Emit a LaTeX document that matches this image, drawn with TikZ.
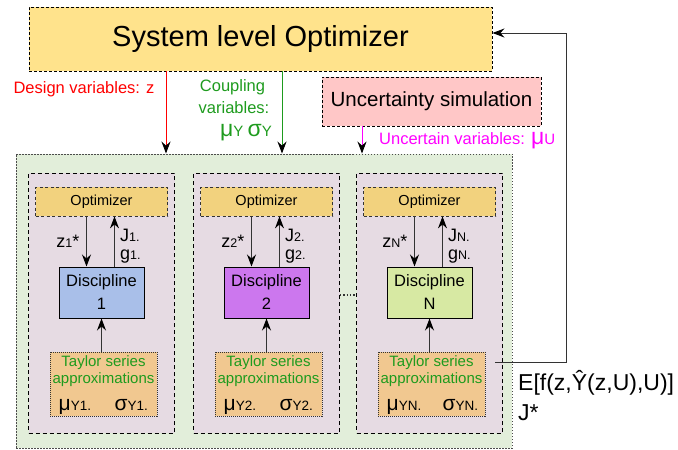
\documentclass[tikz,border=0pt]{standalone}
\usepackage{fontspec}
\setmainfont{Liberation Sans}
\usetikzlibrary{arrows.meta,calc}
\definecolor{sysfill}{HTML}{FFE38C}
\definecolor{uncfill}{HTML}{FFC7C7}
\definecolor{outerfill}{HTML}{E2EEDA}
\definecolor{subfill}{HTML}{E6DBE3}
\definecolor{optfill}{HTML}{F2D27E}
\definecolor{discAcol}{HTML}{A9BFE9}
\definecolor{discBcol}{HTML}{CC77EE}
\definecolor{discCcol}{HTML}{D7E9A3}
\definecolor{tayfill}{HTML}{F1C890}
\definecolor{greentxt}{HTML}{1E9B1E}
\definecolor{redtxt}{HTML}{FF0000}
\definecolor{magtxt}{HTML}{FF00FF}
\definecolor{linegrey}{HTML}{333333}
\newcommand\myfs[1]{\fontsize{#1}{#1}\selectfont}
\begin{document}
\begin{tikzpicture}[x=1pt,y=-1pt,
  tip/.style={-{Stealth[length=12pt,width=9pt,inset=4pt,black]}},
  arr/.style={tip,draw=linegrey,line width=1pt},
  sysbox/.style={draw,fill=sysfill,dash pattern=on 3pt off 2pt,line width=0.9pt,inner sep=0pt},
  uncbox/.style={draw,fill=uncfill,dash pattern=on 3pt off 2pt,line width=0.9pt,inner sep=0pt},
  outerbox/.style={draw=black!70,fill=outerfill,dash pattern=on 1.5pt off 1.5pt,line width=0.9pt,inner sep=0pt},
  subbox/.style={draw,fill=subfill,dash pattern=on 4pt off 3pt,line width=1pt,inner sep=0pt},
  optbox/.style={draw=black!80,fill=optfill,dash pattern=on 3pt off 2.5pt,line width=0.8pt,inner sep=0pt},
  discbox/.style={draw,line width=1pt,inner sep=0pt,align=center,font=\myfs{16.5},execute at begin node={\baselineskip=23pt}},
  taybox/.style={draw=black!80,fill=tayfill,dash pattern=on 1pt off 1pt,line width=0.8pt,inner sep=0pt},
  txt/.style={inner sep=0pt},
]
\useasboundingbox (0,0) rectangle (678,450);

% top level
\node[sysbox,minimum width=463pt,minimum height=64pt] (sys) at (260.5,39) {\myfs{29}System level Optimizer};
\node[uncbox,minimum width=219pt,minimum height=49pt] (unc) at (431.5,101.5) {\myfs{20.5}Uncertainty simulation};
\node[outerbox,minimum width=496pt,minimum height=294pt] (outer) at (264,301) {};

% labels of top arrows
\node[txt,text=redtxt] (dlab) at (84,89) {\myfs{16.5}Design variables: z};
\node[txt,text=greentxt] (clabA) at (232.5,87) {\myfs{16.5}Coupling};
\node[txt,text=greentxt] (clabB) at (234,108) {\myfs{16.5}variables:};
\node[txt,text=greentxt,anchor=base] (clabC) at (246,136) {\myfs{23}μ\myfs{15}Y \myfs{23}σ\myfs{15}Y};
\node[txt,text=magtxt,anchor=base west] (ulab) at (379,144) {\myfs{16.5}Uncertain variables: \myfs{23}μ\myfs{15}U};

% top arrows
\coordinate (dz) at (166,0);
\coordinate (dc) at (282,0);
\coordinate (du) at (362,0);
\draw[tip,draw=redtxt,line width=1pt] (sys.south -| dz) -- (outer.north -| dz);
\draw[tip,draw=greentxt,line width=1pt] (sys.south -| dc) -- (outer.north -| dc);
\draw[tip,draw=magtxt,line width=1pt] (unc.south -| du) -- (outer.north -| du);

% discipline columns
\foreach \i/\cx/\col in {1/101.5/discAcol, 2/266.5/discBcol, N/429.5/discCcol}{
  \node[subbox,minimum width=146pt,minimum height=260pt] (sub\i) at (\cx,303) {};
  \node[optbox,minimum width=132pt,minimum height=29pt] (opt\i) at (\cx,201.5) {\myfs{14.5}Optimizer};
  \node[discbox,fill=\col,minimum width=85pt,minimum height=51pt] (disc\i) at (\cx,292.5) {Discipline\\\i};
  \node[taybox,minimum width=107pt,minimum height=64pt] (tay\i) at (\cx+2,384) {};
  \node[txt,text=greentxt,anchor=base] (tayA\i) at (\cx+2,366) {\myfs{15}Taylor series};
  \node[txt,text=greentxt,anchor=base] (tayB\i) at (\cx+2,383.5) {\myfs{15}approximations};
  \node[txt,anchor=base west] (mu\i) at (\cx-43,410) {\myfs{21}μ\myfs{13.5}Y\i.};
  \node[txt,anchor=base west] (sg\i) at (\cx+13,410) {\myfs{21}σ\myfs{13.5}Y\i.};
  \node[txt,anchor=base east] (zl\i) at (\cx-22,247) {\myfs{18}z\myfs{12.5}\i\myfs{18}*};
  \node[txt,anchor=base west] (jl\i) at (\cx+18.5,241) {\myfs{18}J\myfs{12.5}\i.};
  \node[txt,anchor=base west] (gl\i) at (\cx+18.5,259) {\myfs{18}g\myfs{12.5}\i.};
  \draw[arr] ($(opt\i.south)+(-15,0)$) -- ($(disc\i.north)+(-15,0)$);
  \draw[arr] ($(disc\i.north)+(13,0)$) -- ($(opt\i.south)+(13,0)$);
  \draw[arr] (tay\i.north -| disc\i.south) -- (disc\i.south);
}

% dots between column 2 and N
\draw[linegrey,dash pattern=on 1.3pt off 2pt,line width=1.3pt] ([yshift=8pt]sub2.east) -- ([yshift=8pt]subN.west);

% feedback
\coordinate (fb) at (495,362);
\coordinate (fbc) at (566,362);
\node[txt,anchor=base west] (elab) at (518,390) {\myfs{23}E[f(z,Ŷ(z,U),U)]};
\node[txt,anchor=base west] (jstar) at (518,420) {\myfs{23}J*};
\draw[tip,draw=linegrey,line width=1pt] (fb) -- (fbc) |- ([yshift=6pt]sys.east);
\end{tikzpicture}
\end{document}
